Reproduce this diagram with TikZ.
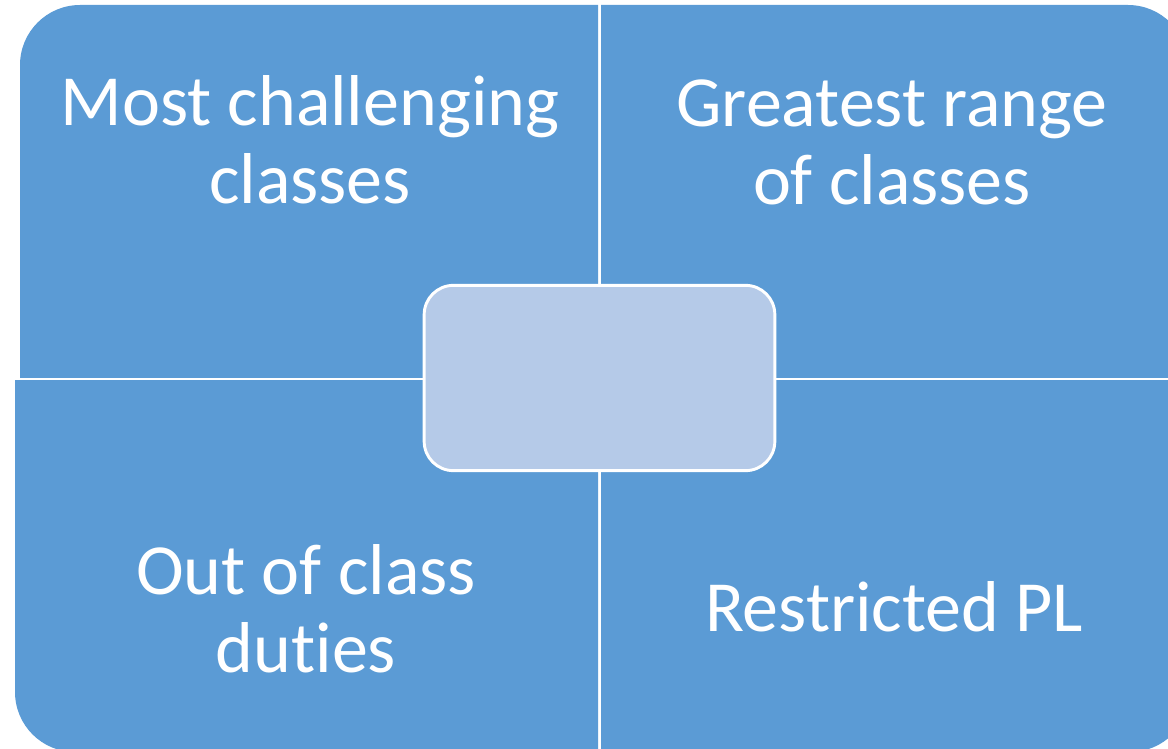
\documentclass[tikz,border=0pt]{standalone}
\usepackage{fontspec}
\setmainfont[Ligatures=NoCommon]{Carlito}
\definecolor{quadblue}{HTML}{5B9BD5}
\definecolor{hubblue}{HTML}{B5CAE8}

\begin{document}
\begin{tikzpicture}[
		x=0.75pt, y=-0.75pt,
		quad/.style={fill=quadblue, rounded corners=45pt},
		label text/.style={text=white, align=center, inner sep=0pt,
			font=\fontsize{54}{58.5}\selectfont},
		hub/.style={rectangle, rounded corners=22pt, draw=white, line width=2.2pt,
			fill=hubblue, minimum width=263pt, minimum height=139pt}
	]
  \useasboundingbox (0,0) rectangle (1168,749);
  % four quadrants, each with one rounded outer corner
  \begin{scope}
    \clip (20,5) rectangle (598,377);
    \fill[quad] (20,5) rectangle (1180,760);
  \end{scope}
  \begin{scope}
    \clip (601,5) rectangle (1168,377);
    \fill[quad] (0,5) rectangle (1188,760);
  \end{scope}
  \begin{scope}
    \clip (15,380) rectangle (598,749);
    \fill[quad] (15,0) rectangle (1180,752);
  \end{scope}
  \begin{scope}
    \clip (601,380) rectangle (1168,749);
    \fill[quad] (0,0) rectangle (1190,752);
  \end{scope}
  \node (most) [label text] at (310,140) {Most challenging\\classes};
  \node (range) [label text] at (892,142) {Greatest range\\of classes};
  \node (duties) [label text] at (306,609) {Out of class\\duties};
  \node (pl) [label text] at (894,607) {Restricted PL};
  \node (hub) [hub] at (599.5,378) {};
\end{tikzpicture}
\end{document}
